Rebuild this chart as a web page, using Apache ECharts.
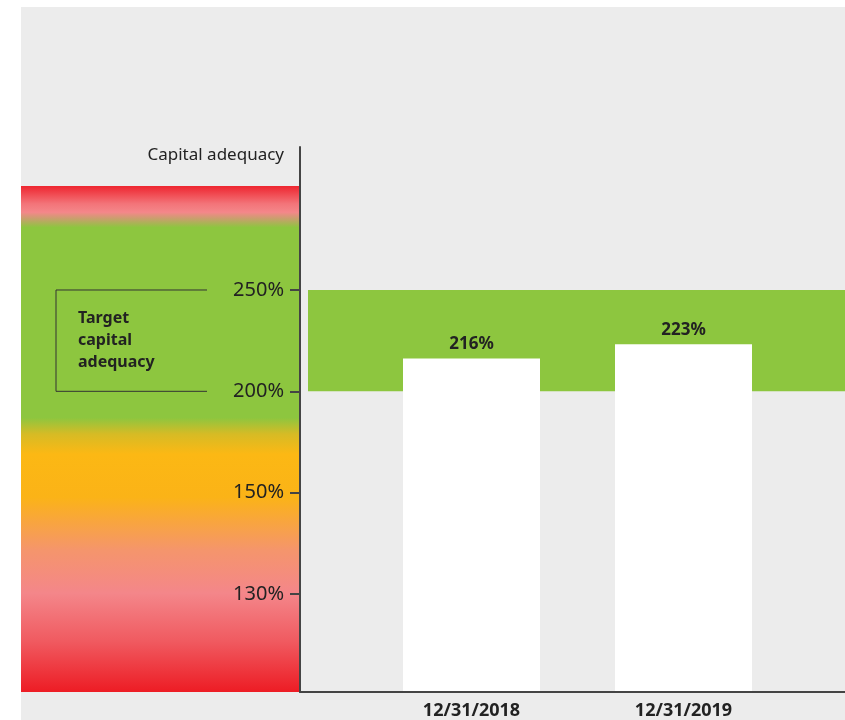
<!DOCTYPE html>
<html>
<head>
<meta charset="utf-8">
<script src="https://cdn.jsdelivr.net/npm/echarts@6/dist/echarts.min.js"></script>
<style>
html,body{margin:0;padding:0;background:#fff;}
#chart{width:845px;height:720px;}
</style>
</head>
<body>
<div id="chart"></div>
<script>
// ---- data ----
const categories = ['12/31/2018', '12/31/2019'];
const barValues = [216, 223];
const tickValues = [130, 150, 200, 250];
const tickLabels = ['130%', '150%', '200%', '250%'];
const targetRange = [200, 250];
const axisTitle = 'Capital adequacy';
const targetLabel = ['Target', 'capital', 'adequacy'];

// The source chart uses an evenly spaced (non-linear) scale between its ticks.
// Map a value to tick-index space (piecewise linear between ticks).
const PAD_BOTTOM = 0.967, PAD_TOP = 1.411;
function toAxis(v) {
  const t = tickValues;
  let i = 0;
  if (v <= t[0]) i = 0;
  else if (v >= t[t.length - 1]) i = t.length - 2;
  else { while (v > t[i + 1]) i++; }
  const idx = i + (v - t[i]) / (t[i + 1] - t[i]);
  return idx + PAD_BOTTOM;
}
const yMin = 0, yMax = PAD_BOTTOM + (tickValues.length - 1) + PAD_TOP;
const tickPos = tickValues.map(toAxis);

const FONT = 'Noto Sans';
const chart = echarts.init(document.getElementById('chart'), null, {renderer: 'canvas'});

chart.setOption({
  backgroundColor: '#ffffff',
  animation: false,
  grid: [
    {left: 300, right: 0, top: 147, bottom: 28},
    {left: 365.5, right: 55.5, top: 147, bottom: 28}
  ],
  xAxis: [
    {gridIndex: 0, type: 'value', min: 0, max: 1,
     axisLine: {show: true, lineStyle: {color: '#444', width: 2}},
     axisTick: {show: false}, axisLabel: {show: false}, splitLine: {show: false}},
    {gridIndex: 1, type: 'category', data: categories,
     axisLine: {show: false}, axisTick: {show: false}, splitLine: {show: false},
     axisLabel: {color: '#222', fontFamily: FONT, fontWeight: 'bold', fontSize: 18, margin: 11}}
  ],
  yAxis: [
    {gridIndex: 0, type: 'value', min: yMin, max: yMax,
     axisLine: {show: true, lineStyle: {color: '#444', width: 2}},
     axisTick: {show: true, length: 10, customValues: tickPos, lineStyle: {color: '#444', width: 2}},
     axisLabel: {show: true, customValues: tickPos, margin: 16, color: '#222',
       fontFamily: FONT, fontSize: 20,
       formatter: function (val) {
         const i = tickPos.findIndex(p => Math.abs(p - val) < 1e-6);
         return i >= 0 ? tickLabels[i] : '';
       }},
     splitLine: {show: false}},
    {gridIndex: 1, type: 'value', min: yMin, max: yMax, show: false, splitLine: {show: false}}
  ],
  series: [
    {
      type: 'custom', xAxisIndex: 0, yAxisIndex: 0, z: 1, silent: true,
      data: [[0, toAxis(targetRange[1])]],
      renderItem: function (params, api) {
        const yTop = api.coord([0, toAxis(targetRange[1])])[1];
        const yBot = api.coord([0, toAxis(targetRange[0])])[1];
        const cs = params.coordSys;
        return {type: 'rect',
          shape: {x: cs.x + 8, y: yTop, width: cs.width - 8, height: yBot - yTop},
          style: {fill: '#8dc63f'}};
      }
    },
    {
      type: 'bar', xAxisIndex: 1, yAxisIndex: 1, z: 3,
      data: barValues.map(toAxis),
      barWidth: 137,
      itemStyle: {color: '#ffffff'},
      label: {show: true, position: 'top', distance: 6, color: '#222',
        fontFamily: FONT, fontWeight: 'bold', fontSize: 17,
        formatter: p => barValues[p.dataIndex] + '%'}
    }
  ]
});

const yTop = chart.convertToPixel({yAxisIndex: 0}, toAxis(targetRange[1]));
const yBot = chart.convertToPixel({yAxisIndex: 0}, toAxis(targetRange[0]));

chart.setOption({
  graphic: [
    {type: 'rect', z: -100, silent: true,
     shape: {x: 21, y: 7, width: 824, height: 713}, style: {fill: '#ececec'}},
    {type: 'rect', z: -50, silent: true,
     shape: {x: 21, y: 186, width: 278, height: 506},
     style: {fill: new echarts.graphic.LinearGradient(0, 0, 0, 1, [
       {offset: 0, color: '#ee2630'},
       {offset: 0.035, color: '#f37479'},
       {offset: 0.052, color: '#f4878a'},
       {offset: 0.065, color: '#c7a06c'},
       {offset: 0.082, color: '#8dc63f'},
       {offset: 0.458, color: '#8dc63f'},
       {offset: 0.49, color: '#d6bb25'},
       {offset: 0.53, color: '#fcb814'},
       {offset: 0.615, color: '#fbb317'},
       {offset: 0.72, color: '#f5956c'},
       {offset: 0.805, color: '#f4868a'},
       {offset: 0.9, color: '#f05a60'},
       {offset: 1, color: '#ed1c24'}
     ])}},
    {type: 'polyline', z: 10, silent: true,
     shape: {points: [[207, yTop], [56, yTop], [56, yBot], [207, yBot]]},
     style: {stroke: '#333', lineWidth: 1, fill: null}},
    {type: 'text', z: 10, silent: true, x: 78, y: (yTop + yBot) / 2,
     style: {text: targetLabel.join('\n'), fill: '#222', font: 'bold 16px "Noto Sans"',
       lineHeight: 22, verticalAlign: 'middle', align: 'left'}},
    {type: 'text', z: 10, silent: true, x: 284, y: 155,
     style: {text: axisTitle, fill: '#222', font: '17px "Noto Sans"',
       verticalAlign: 'middle', align: 'right'}}
  ]
});
</script>
</body>
</html>
